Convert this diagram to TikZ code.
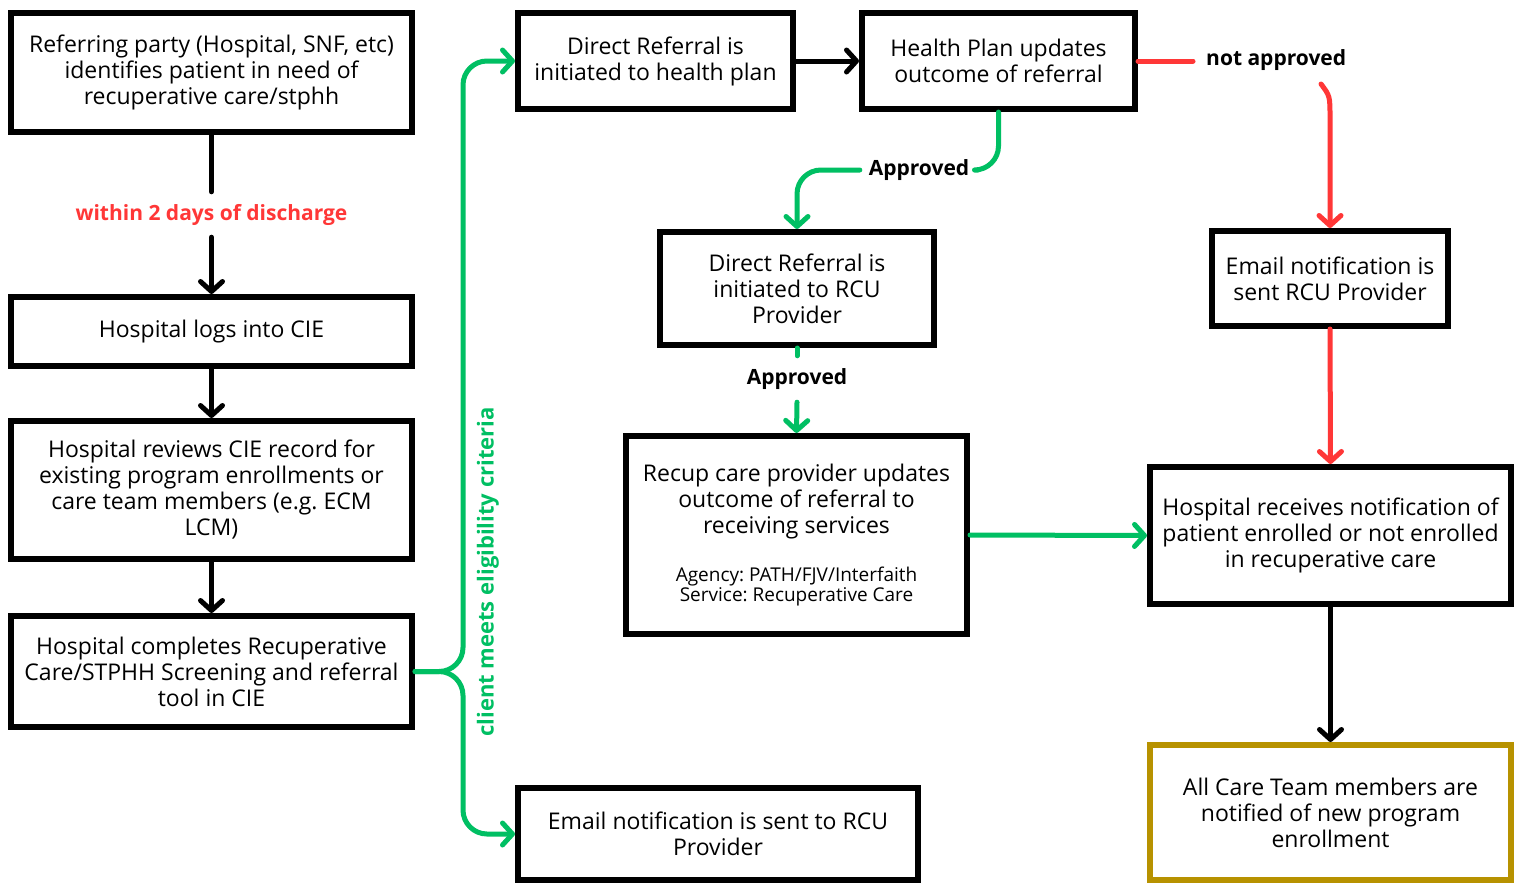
\documentclass[tikz,border=0pt]{standalone}
\usepackage{fontspec}
\setmainfont{Open Sans}
\newfontfamily\lblfont{Open Sans}
\usetikzlibrary{arrows.meta}
\definecolor{grn}{RGB}{0,191,99}
\definecolor{rd}{RGB}{255,55,55}
\definecolor{gold}{RGB}{183,146,0}
\begin{document}
\frenchspacing
\begin{tikzpicture}[x=1pt,y=-1pt,
  box/.style={draw=black,line width=6pt,align=center,inner sep=0pt,
    font=\fontsize{23}{26}\selectfont},
  goldbox/.style={box,draw=gold},
  lbl/.style={inner sep=0pt,align=center,font=\lblfont\bfseries\fontsize{21}{24}\selectfont},
  conn/.style={line width=5pt,line cap=round,line join=round},
  tip/.style={-{Straight Barb[length=10pt,width=22pt,line cap=round,line join=round]}},
  blk/.style={conn,black},
  gr/.style={conn,grn},
  rr/.style={conn,rd}]
\useasboundingbox (0,0) rectangle (1520,884);
\fill[white] (0,0) rectangle (1520,884);

% boxes
\node[box,minimum width=401,minimum height=119] (A) at (211.5,72.5)
  {Referring party (Hospital, SNF, etc)\\identifies patient in need of\\recuperative care/stphh};
\node[box,minimum width=401,minimum height=69] (B) at (211.5,331.5) {Hospital logs into CIE};
\node[box,minimum width=401,minimum height=138] (C) at (211.5,490)
  {Hospital reviews CIE record for\\existing program enrollments or\\care team members (e.g. ECM\\LCM)};
\node[box,minimum width=401,minimum height=111] (D) at (211.5,671.5)
  {Hospital completes Recuperative\\Care/STPHH Screening and referral\\tool in CIE};
\node[box,minimum width=275,minimum height=96] (E) at (655.5,61)
  {Direct Referral is\\initiated to health plan};
\node[box,minimum width=273,minimum height=96] (F) at (998.5,61)
  {Health Plan updates\\outcome of referral};
\node[box,minimum width=274,minimum height=113] (G) at (797,288.5)
  {Direct Referral is\\initiated to RCU\\Provider};
\node[box,minimum width=341,minimum height=198] (H) at (796.5,535)
  {\parbox{330pt}{\centering\fontsize{23}{26}\selectfont
   Recup care provider updates\\outcome of referral to\\receiving services\par
   \vspace{27pt}\fontsize{19}{20}\selectfont
   Agency: PATH/FJV/Interfaith\\Service: Recuperative Care\par}};
\node[box,minimum width=400,minimum height=92] (I) at (718,834)
  {Email notification is sent to RCU\\Provider};
\node[box,minimum width=236,minimum height=95] (J) at (1330,278.5)
  {Email notification is\\sent RCU Provider};
\node[box,minimum width=361,minimum height=137] (K) at (1330.5,535.5)
  {Hospital receives notification of\\patient enrolled or not enrolled\\in recuperative care};
\node[goldbox,minimum width=361,minimum height=135] (L) at (1330.5,812.5)
  {All Care Team members are\\notified of new program\\enrollment};

% labels
\node[lbl,text=rd,minimum height=45] (l1) at (211.5,214.5) {within 2 days of discharge};
\node[lbl,minimum width=118] (l2) at (919,170) {Approved};
\node[lbl,minimum height=46] (l3) at (797,379) {Approved};
\node[lbl,anchor=west] (l4) at (1206,60) {not approved};
\node[lbl,text=grn,rotate=90,font=\lblfont\bfseries\fontsize{22}{24}\selectfont] (l5) at (488,572) {client meets eligibility criteria};
\coordinate (br) at (463,671.5);
\coordinate (nstart) at (1321,84);
\coordinate (rstub) at (1193,61);

% connectors
\draw[blk] (A.south) -- (l1.north);
\draw[blk,tip] (l1.south) -- (B.north);
\draw[blk,tip] (B.south) -- (C.north);
\draw[blk,tip] (C.south) -- (D.north);
\draw[gr,tip,rounded corners=24] (D.east) -- (br) |- (E.west);
\draw[gr,tip,rounded corners=24] (D.east) -- (br) |- (I.west);
\draw[blk,tip] (E.east) -- (F.west);
\draw[gr,rounded corners=24] (F.south) |- (l2.east);
\draw[gr,tip,rounded corners=24] (l2.west) -| (G.north);
\draw[gr] (G.south) -- (l3.north);
\draw[gr,tip] (l3.south) -- (H.north);
\draw[rr] (F.east) -- (rstub);
\draw[rr,tip] (nstart) .. controls (1330,96) .. (1330,118) -- (J.north);
\draw[gr,tip] (H.east) -- (K.west);
\draw[rr,tip] (J.south) -- (K.north);
\draw[blk,tip] (K.south) -- (L.north);
\end{tikzpicture}
\end{document}
